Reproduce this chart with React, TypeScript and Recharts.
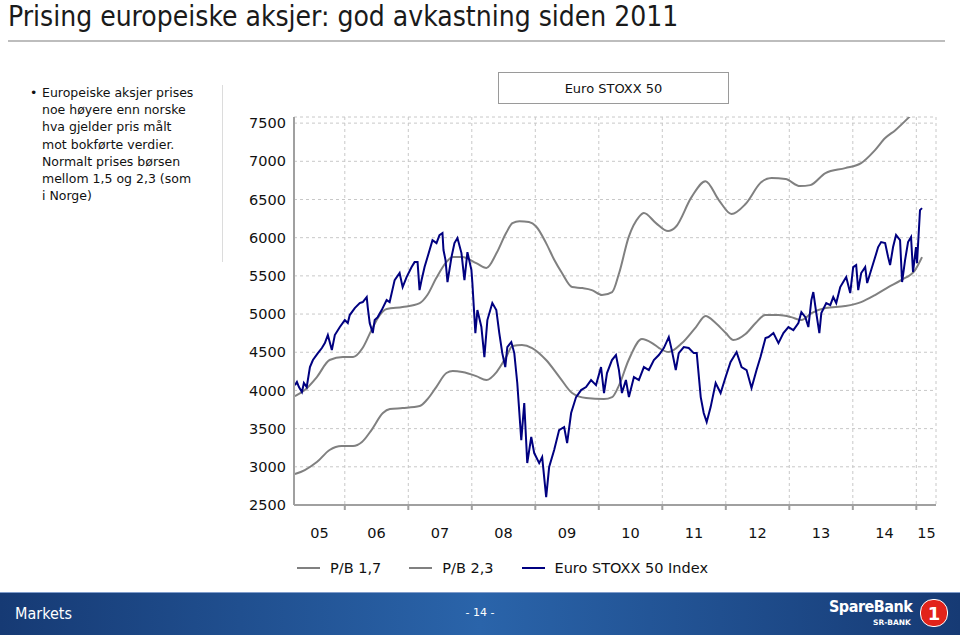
import { LineChart, Line, XAxis, YAxis, CartesianGrid } from "recharts";

// P/B 1,7 band (lower grey line), [year, level]
const pb17: [number, number][] = [
  [2005.215, 2905], [2005.37, 2958], [2005.56, 3062], [2005.76, 3220], [2005.95, 3272],
  [2006.13, 3272], [2006.27, 3324], [2006.42, 3481], [2006.6, 3704], [2006.71, 3756],
  [2006.91, 3769], [2007.18, 3796], [2007.29, 3874], [2007.44, 4044], [2007.6, 4228],
  [2007.7, 4254], [2007.85, 4241], [2008.07, 4188], [2008.23, 4136], [2008.39, 4241],
  [2008.54, 4437], [2008.64, 4581], [2008.79, 4594], [2008.95, 4555], [2009.17, 4398],
  [2009.38, 4175], [2009.58, 3966], [2009.8, 3900], [2010.08, 3887], [2010.21, 3913],
  [2010.32, 4070], [2010.47, 4398], [2010.68, 4673], [2010.84, 4620], [2010.95, 4555],
  [2011.1, 4502], [2011.31, 4620], [2011.53, 4830], [2011.68, 4974], [2011.84, 4882],
  [2012.0, 4751], [2012.12, 4660], [2012.31, 4738], [2012.47, 4882], [2012.62, 4987],
  [2012.83, 4987], [2013.03, 4960], [2013.19, 4921], [2013.35, 5013], [2013.57, 5078],
  [2013.88, 5105], [2014.13, 5157], [2014.35, 5249], [2014.56, 5353], [2014.76, 5445],
  [2014.98, 5576], [2015.09, 5746],
];

// P/B 2,3 band (upper grey line)
const pb23: [number, number][] = [
  [2005.215, 3926], [2005.37, 4005], [2005.56, 4175], [2005.76, 4398], [2005.97, 4437],
  [2006.13, 4437], [2006.28, 4555], [2006.42, 4790], [2006.55, 4987], [2006.66, 5065],
  [2006.91, 5092], [2007.18, 5144], [2007.3, 5249], [2007.44, 5471], [2007.6, 5680],
  [2007.7, 5746], [2007.85, 5746], [2008.07, 5667], [2008.23, 5602], [2008.39, 5798],
  [2008.54, 6060], [2008.64, 6191], [2008.75, 6215], [2008.9, 6204], [2009.01, 6150],
  [2009.17, 5929], [2009.3, 5707], [2009.42, 5537], [2009.58, 5353], [2009.74, 5340],
  [2009.89, 5314], [2010.05, 5249], [2010.21, 5288], [2010.32, 5537], [2010.47, 6008],
  [2010.63, 6270], [2010.71, 6322], [2010.9, 6191], [2011.09, 6086], [2011.21, 6139],
  [2011.46, 6531], [2011.68, 6740], [2011.89, 6492], [2012.09, 6309], [2012.31, 6440],
  [2012.56, 6728], [2012.72, 6780], [2012.94, 6767], [2013.17, 6675], [2013.33, 6688],
  [2013.57, 6846], [2013.88, 6911], [2014.13, 6976], [2014.35, 7147], [2014.51, 7304],
  [2014.67, 7408], [2014.87, 7565], [2015.09, 7760],
];

// Euro STOXX 50 Index
const stoxx: [number, number][] = [
  [2005.215, 4070], [2005.246, 4110], [2005.278, 4044], [2005.325, 3979], [2005.356, 4097],
  [2005.4, 4044], [2005.451, 4306], [2005.498, 4398], [2005.576, 4489], [2005.639, 4555],
  [2005.686, 4620], [2005.733, 4725], [2005.796, 4528], [2005.843, 4725], [2005.922, 4830],
  [2006.0, 4921], [2006.047, 4882], [2006.078, 4987], [2006.157, 5078], [2006.235, 5144],
  [2006.283, 5157], [2006.345, 5222], [2006.361, 5091], [2006.392, 4882], [2006.44, 4751],
  [2006.471, 4921], [2006.518, 4960], [2006.581, 5052], [2006.659, 5183], [2006.706, 5157],
  [2006.785, 5445], [2006.863, 5537], [2006.911, 5353], [2006.973, 5484], [2007.052, 5615],
  [2007.099, 5680], [2007.146, 5680], [2007.177, 5314], [2007.209, 5445], [2007.256, 5615],
  [2007.303, 5746], [2007.381, 5968], [2007.444, 5929], [2007.491, 6034], [2007.538, 6060],
  [2007.554, 5838], [2007.586, 5707], [2007.617, 5419], [2007.68, 5746], [2007.727, 5929],
  [2007.774, 5995], [2007.837, 5798], [2007.884, 5445], [2007.931, 5811], [2007.994, 5576],
  [2008.009, 5406], [2008.056, 4751], [2008.088, 5052], [2008.151, 4830], [2008.198, 4437],
  [2008.245, 4921], [2008.323, 5144], [2008.386, 5052], [2008.433, 4751], [2008.48, 4489],
  [2008.527, 4306], [2008.559, 4568], [2008.622, 4633], [2008.669, 4489], [2008.716, 4097],
  [2008.779, 3350], [2008.826, 3835], [2008.873, 3049], [2008.936, 3390], [2008.983, 3180],
  [2009.061, 3049], [2009.108, 3128], [2009.171, 2604], [2009.218, 2997], [2009.297, 3220],
  [2009.375, 3481], [2009.454, 3521], [2009.501, 3311], [2009.564, 3704], [2009.642, 3913],
  [2009.721, 4005], [2009.799, 4044], [2009.878, 4136], [2009.956, 4070], [2010.035, 4306],
  [2010.082, 3966], [2010.129, 4228], [2010.207, 4398], [2010.27, 4463], [2010.317, 4267],
  [2010.364, 3966], [2010.427, 4136], [2010.474, 3913], [2010.553, 4175], [2010.631, 4136],
  [2010.71, 4306], [2010.788, 4267], [2010.867, 4398], [2010.945, 4463], [2011.024, 4555],
  [2011.102, 4699], [2011.149, 4528], [2011.212, 4267], [2011.259, 4489], [2011.338, 4568],
  [2011.416, 4555], [2011.495, 4489], [2011.542, 4489], [2011.605, 3913], [2011.652, 3704],
  [2011.699, 3586], [2011.761, 3782], [2011.84, 4097], [2011.918, 3966], [2011.997, 4175],
  [2012.075, 4372], [2012.17, 4502], [2012.248, 4306], [2012.327, 4267], [2012.405, 4031],
  [2012.484, 4267], [2012.546, 4437], [2012.625, 4686], [2012.672, 4699], [2012.75, 4751],
  [2012.829, 4620], [2012.907, 4751], [2012.986, 4830], [2013.064, 4790], [2013.143, 4882],
  [2013.19, 5026], [2013.253, 4960], [2013.3, 4830], [2013.347, 5183], [2013.378, 5288],
  [2013.425, 5013], [2013.473, 4751], [2013.504, 5013], [2013.582, 5144], [2013.645, 5118],
  [2013.692, 5222], [2013.739, 5144], [2013.802, 5353], [2013.849, 5419], [2013.896, 5484],
  [2013.959, 5275], [2014.006, 5615], [2014.053, 5641], [2014.085, 5314], [2014.132, 5537],
  [2014.195, 5615], [2014.226, 5406], [2014.289, 5576], [2014.352, 5746], [2014.399, 5877],
  [2014.446, 5942], [2014.509, 5929], [2014.556, 5746], [2014.587, 5641], [2014.634, 5877],
  [2014.681, 6034], [2014.744, 5968], [2014.776, 5419], [2014.823, 5707], [2014.87, 5942],
  [2014.917, 6008], [2014.948, 5550], [2014.995, 5877], [2015.011, 5667], [2015.058, 6361],
  [2015.09, 6387],
];

const yearBreaks = [2006, 2007, 2008, 2009, 2010, 2011, 2012, 2013, 2014, 2015];
const yearLabelPos = [2005.6, 2006.5, 2007.5, 2008.5, 2009.5, 2010.5, 2011.5, 2012.5, 2013.5, 2014.5, 2015.16];
const yearLabels = ["05", "06", "07", "08", "09", "10", "11", "12", "13", "14", "15"];
const yTicks = [2500, 3000, 3500, 4000, 4500, 5000, 5500, 6000, 6500, 7000, 7500];

const series = [
  { name: "P/B 1,7", color: "#808080", points: pb17 },
  { name: "P/B 2,3", color: "#808080", points: pb23 },
  { name: "Euro STOXX 50 Index", color: "#000080", points: stoxx },
];

const bulletLines = [
  "Europeiske aksjer prises",
  "noe høyere enn norske",
  "hva gjelder pris målt",
  "mot bokførte verdier.",
  "Normalt prises børsen",
  "mellom 1,5 og 2,3 (som",
  "i Norge)",
];

const FONT = "'DejaVu Sans', Verdana, sans-serif";
const NARROW = "'Liberation Sans Narrow', 'DejaVu Sans Condensed', sans-serif";
const toRows = (pts: [number, number][]) => pts.map(([t, v]) => ({ t, v }));

function ChartLegend() {
  return (
    <div style={{ position: "absolute", left: 297, top: 560, display: "flex", alignItems: "center", fontFamily: FONT, fontSize: 14.5, color: "#111" }}>
      {series.map((s) => (
        <div key={s.name} style={{ display: "flex", alignItems: "center", marginRight: 28 }}>
          <div style={{ width: 23, height: 2, background: s.color, marginRight: 10 }} />
          <span>{s.name}</span>
        </div>
      ))}
    </div>
  );
}

export default function App() {
  return (
    <div style={{ position: "relative", width: 960, height: 635, overflow: "hidden", background: "#fff" }}>
      <style>{"body{margin:0}"}</style>

      <div style={{ position: "absolute", left: 8, top: 0, fontFamily: NARROW, fontSize: 28, color: "#1a1a1a", whiteSpace: "nowrap" }}>
        Prising europeiske aksjer: god avkastning siden 2011
      </div>
      <div style={{ position: "absolute", left: 8, top: 40, width: 937, height: 2, background: "#bdbdbd" }} />

      <div style={{ position: "absolute", left: 30, top: 84, fontFamily: FONT, fontSize: 12.5, lineHeight: "17.2px", color: "#111" }}>
        <span style={{ position: "absolute", left: 0, top: 0 }}>•</span>
        <div style={{ marginLeft: 12 }}>
          {bulletLines.map((l) => (
            <div key={l} style={{ whiteSpace: "nowrap" }}>{l}</div>
          ))}
        </div>
      </div>
      <div style={{ position: "absolute", left: 222, top: 85, width: 1, height: 177, background: "#dcdcdc" }} />

      <div style={{ position: "absolute", left: 498, top: 72, width: 229, height: 30, border: "1px solid #9a9a9a", display: "flex", alignItems: "center", justifyContent: "center", fontFamily: FONT, fontSize: 13, color: "#111" }}>
        Euro STOXX 50
      </div>

      <div style={{ position: "absolute", left: 230, top: 60 }}>
        <LineChart width={720} height={488} margin={{ top: 57, right: 14, bottom: 5, left: 6 }}>
          <CartesianGrid stroke="#c8c8c8" strokeDasharray="3 3" />
          <XAxis
            dataKey="t"
            type="number"
            domain={[2005.2, 2015.31]}
            ticks={yearBreaks}
            allowDataOverflow
            height={8}
            tickSize={5}
            tickFormatter={() => ""}
            stroke="#a0a0a0"
            strokeWidth={2}
          />
          <XAxis
            xAxisId="lbl"
            dataKey="t"
            type="number"
            domain={[2005.2, 2015.31]}
            ticks={yearLabelPos}
            allowDataOverflow
            height={30}
            axisLine={false}
            tickLine={false}
            tickMargin={9}
            interval={0}
            tickFormatter={(v: number) => yearLabels[yearLabelPos.indexOf(v)] ?? ""}
            tick={{ fill: "#111", fontSize: 14.5, fontFamily: FONT }}
          />
          <YAxis
            type="number"
            domain={[2500, 7580]}
            ticks={yTicks}
            allowDataOverflow
            width={58}
            tickLine={false}
            stroke="#a0a0a0"
            strokeWidth={2}
            tick={{ fill: "#111", fontSize: 14.5, fontFamily: FONT }}
          />
          {series.map((s, i) => (
            <Line
              key={s.name}
              data={toRows(s.points)}
              dataKey="v"
              name={s.name}
              type={i < 2 ? "monotone" : "linear"}
              stroke={s.color}
              strokeWidth={2}
              dot={false}
              activeDot={false}
              isAnimationActive={false}
            />
          ))}
        </LineChart>
      </div>

      <ChartLegend />

      <div style={{ position: "absolute", left: 0, top: 592, width: 960, height: 43, background: "linear-gradient(to right, #163a74 0%, #2a64aa 50%, #163a74 100%)", borderTop: "1px solid #7f9ccb" }}>
        <div style={{ position: "absolute", left: 15, top: 11, color: "#fff", fontFamily: NARROW, fontSize: 16 }}>Markets</div>
        <div style={{ position: "absolute", left: 0, width: 960, top: 13, textAlign: "center", color: "#fff", fontFamily: FONT, fontSize: 11 }}>- 14 -</div>
        <div style={{ position: "absolute", left: 829, top: 4, color: "#fff", fontFamily: NARROW, fontWeight: "bold", fontSize: 16, letterSpacing: -0.5 }}>SpareBank</div>
        <div style={{ position: "absolute", left: 873, top: 25, color: "#fff", fontFamily: FONT, fontWeight: "bold", fontSize: 7.5 }}>SR-BANK</div>
        <div style={{ position: "absolute", left: 920, top: 6, width: 26, height: 26, borderRadius: 13, background: "#e2231a", color: "#fff", fontFamily: FONT, fontWeight: "bold", fontSize: 18, display: "flex", alignItems: "center", justifyContent: "center", border: "1px solid #fff" }}>1</div>
      </div>
    </div>
  );
}
